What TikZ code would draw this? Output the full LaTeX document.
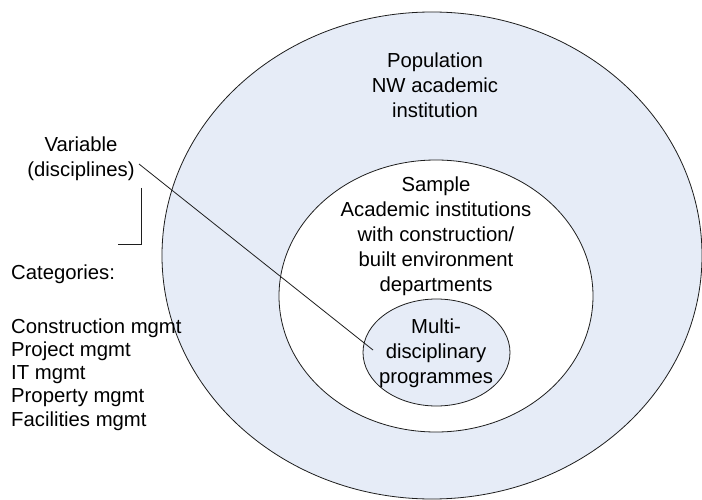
\documentclass[tikz,border=0pt]{standalone}
\usepackage{fontspec}
\setmainfont{Liberation Sans}
\usetikzlibrary{shapes.geometric}
\definecolor{paleblue}{RGB}{230,236,247}
\definecolor{edge}{RGB}{30,30,30}
\tikzset{
  region/.style={ellipse, draw=edge, line width=0.8pt, inner sep=0pt},
  lbl/.style={inner sep=0pt, font=\fontsize{20.3}{25}\selectfont, align=center, anchor=base},
  listlbl/.style={inner sep=0pt, font=\fontsize{20.3}{23.3}\selectfont, align=left, anchor=base west},
  wire/.style={draw=edge, line width=0.8pt}
}
\begin{document}
\begin{tikzpicture}[x=1pt,y=-1pt]
\useasboundingbox (0,0) rectangle (702,500);
\fill[white] (0,0) rectangle (702,500);
\node[region, fill=paleblue, minimum width=540pt, minimum height=487pt] (outer) at (432,255.5) {};
\node[region, fill=white, minimum width=314pt, minimum height=272pt] (middle) at (436,296) {};
\node[region, fill=paleblue, minimum width=147pt, minimum height=107pt] (inner) at (436.5,352.5) {};

% anchor=base of a multi-line node is the baseline of its last line
\node[lbl] (pop) at (435,117.5) {Population\\NW academic\\institution};
\node[lbl] (sample) at (436,291.5) {Sample\\Academic institutions\\with construction/\\built environment\\departments};
\node[lbl] (multi) at (436,383.5) {Multi-\\disciplinary\\programmes};
\node[lbl] (var) at (81,176.5) {Variable\\(disciplines)};
\node[listlbl] (cat) at (11,279.5) {Categories:};
\node[listlbl] (list) at (11,426.2) {Construction mgmt\\Project mgmt\\IT mgmt\\Property mgmt\\Facilities mgmt};

\coordinate (varlink) at (139,164);
\coordinate (multilink) at (373,350);
\draw[wire] (varlink) -- (multilink);
\coordinate (brtop) at (141,188);
\coordinate (brend) at (118,244);
\draw[wire] (brtop) |- (brend);
\end{tikzpicture}
\end{document}
